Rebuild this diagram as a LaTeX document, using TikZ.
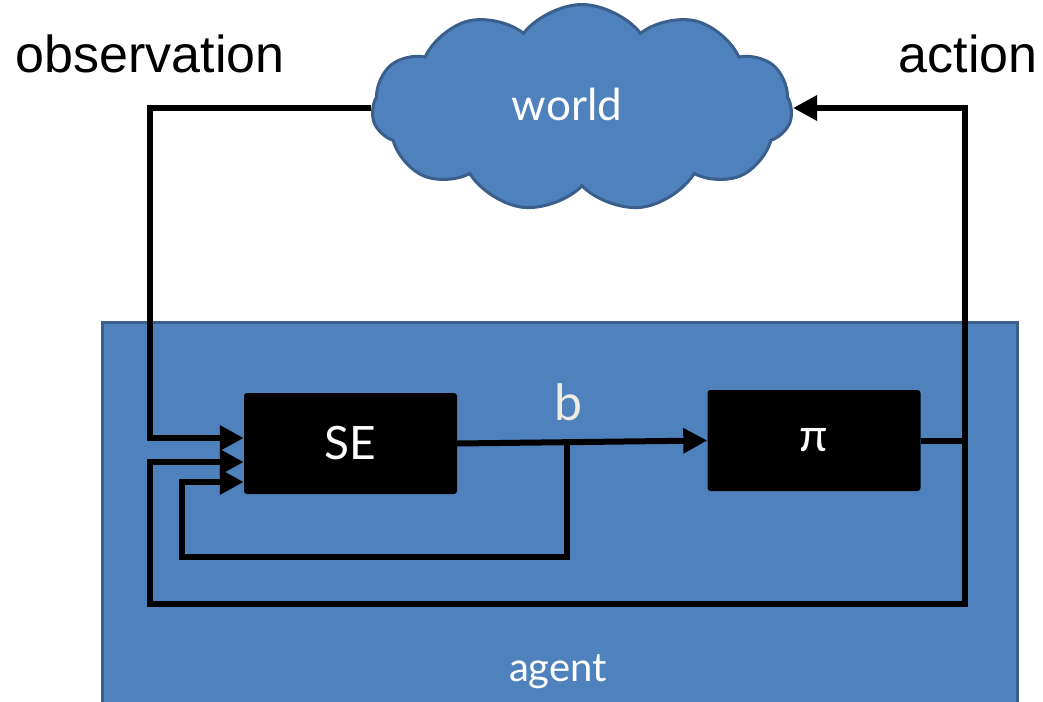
\documentclass[tikz,border=0pt]{standalone}
\usepackage{fontspec}
\setmainfont{Liberation Sans}
\newfontfamily\gillfont{Lato}
\usetikzlibrary{shapes.symbols,arrows.meta,calc}
\definecolor{boxblue}{HTML}{4F81BD}
\definecolor{edgeblue}{HTML}{3A5F8C}
\definecolor{cream}{HTML}{EEECE1}
\begin{document}
\begin{tikzpicture}[x=1pt,y=-1pt,
  flow/.style={line width=6pt, draw=black},
  tip/.style={-{Triangle[length=24pt,width=24pt]}},
  blackbox/.style={rectangle, rounded corners=3pt, fill=black, minimum width=213pt,
    minimum height=101pt, text=white, inner sep=0pt},
  bigtext/.style={font=\fontsize{52}{60}\selectfont, text=black, inner sep=0pt},
  gilltext/.style={text=white, inner sep=0pt}]
\useasboundingbox (0,0) rectangle (1043,701);
\fill[white] (0,0) rectangle (1043,701);
% agent area
\node[rectangle, fill=boxblue, draw=edgeblue, line width=3pt, minimum width=915pt,
  minimum height=386pt, inner sep=0pt, anchor=north west] (agentbox) at (101,321) {};
\node[gilltext, font=\gillfont\fontsize{40}{48}\selectfont, anchor=base] (agentlabel) at (558,681) {agent};
% world cloud
\node[cloud, cloud puffs=11, cloud puff arc=105, cloud ignores aspect,
  minimum width=420pt, minimum height=207pt, fill=boxblue, draw=edgeblue,
  line width=3pt, inner sep=0pt] (world) at (582,108) {};
\node[gilltext, font=\gillfont\fontsize{44}{52}\selectfont, anchor=base] (worldlabel) at (567,120) {world};
% labels
\node[bigtext, anchor=base] (obs) at (150,73) {observation};
\node[bigtext, anchor=base] (act) at (968,73) {action};
% boxes
\node[blackbox, font=\gillfont\fontsize{46}{52}\selectfont] (SE) at (350.5,443.5) {SE};
\node[blackbox, font=\gillfont\fontsize{46}{52}\selectfont] (pi) at (814,440.5) {π};
\node[text=cream, inner sep=0pt, font=\gillfont\fontsize{50}{56}\selectfont, anchor=base] (blabel) at (568,420) {b};
% coordinates
\coordinate (obsturn) at (150,438);
\coordinate (junc) at (965,440.5);
\coordinate (fbr) at (965,604);
\coordinate (fbl) at (150,604);
\coordinate (fbu) at (150,462);
\coordinate (bsplit) at (567,443);
\coordinate (lpr) at (567,557);
\coordinate (lpl) at (182,557);
\coordinate (lpu) at (182,482);
% connectors
\draw[flow,tip] (SE.east) -- (pi.west);
\draw[flow,tip] (world.west) -| (obsturn) -- ($(SE.west)+(0,-5.5)$);
\draw[flow] (pi.east) -- (junc);
\draw[flow,tip] (junc) |- (world.east);
\draw[flow,tip] (junc) -- (fbr) -- (fbl) -- (fbu) -- ($(SE.west)+(0,18.5)$);
\draw[flow,tip] (bsplit) -- (lpr) -- (lpl) -- (lpu) -- ($(SE.west)+(0,38.5)$);
\end{tikzpicture}
\end{document}
